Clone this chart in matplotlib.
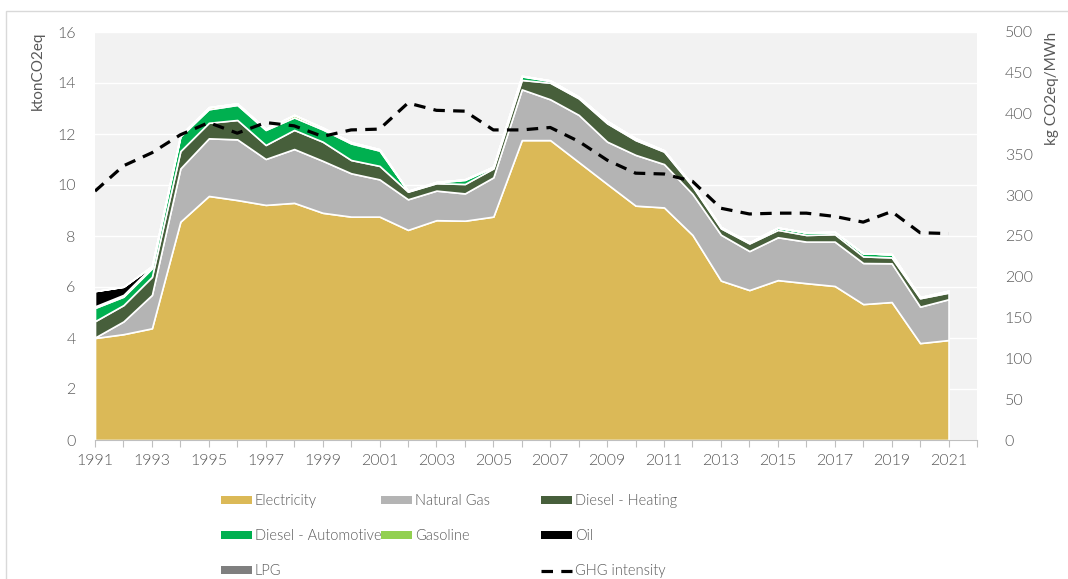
import numpy as np
import matplotlib
matplotlib.use("Agg")
from matplotlib import pyplot as plt
from matplotlib.patches import Patch, Rectangle
from matplotlib.lines import Line2D

years = list(range(1991, 2022))

electricity = [4.00, 4.15, 4.38, 8.56, 9.57, 9.41, 9.22, 9.30, 8.91, 8.76, 8.76,
               8.24, 8.62, 8.60, 8.76, 11.76, 11.76, 10.90, 10.04, 9.19, 9.12,
               8.04, 6.25, 5.88, 6.27, 6.15, 6.04, 5.33, 5.41, 3.80, 3.92]
natural_gas = [0.02, 0.50, 1.31, 2.09, 2.26, 2.38, 1.80, 2.11, 2.04, 1.70, 1.46,
               1.20, 1.16, 1.07, 1.54, 1.99, 1.60, 1.85, 1.66, 1.99, 1.70,
               1.61, 1.80, 1.53, 1.68, 1.63, 1.74, 1.61, 1.52, 1.43, 1.60]
diesel_heating = [0.64, 0.64, 0.71, 0.68, 0.61, 0.76, 0.55, 0.75, 0.75, 0.52, 0.53,
                  0.30, 0.29, 0.37, 0.35, 0.37, 0.65, 0.65, 0.72, 0.58, 0.49,
                  0.30, 0.25, 0.30, 0.29, 0.26, 0.29, 0.26, 0.23, 0.33, 0.26]
diesel_auto = [0.52, 0.33, 0.33, 0.57, 0.53, 0.59, 0.59, 0.49, 0.48, 0.65, 0.60,
               0.02, 0.03, 0.16, 0.05, 0.14, 0.07, 0.05, 0.08, 0.06, 0.04,
               0.05, 0.05, 0.04, 0.09, 0.10, 0.09, 0.12, 0.13, 0.04, 0.07]
gasoline = [0.06, 0.07, 0.07, 0.05, 0.08, 0.06, 0.04, 0.10, 0.07, 0.05, 0.05,
            0.01, 0.02, 0.02, 0.02, 0.02, 0.02, 0.01, 0.01, 0.01, 0.01,
            0.00, 0.00, 0.00, 0.00, 0.00, 0.00, 0.00, 0.00, 0.00, 0.00]
oil = [0.60, 0.32, 0.02, 0.00, 0.00, 0.00, 0.00, 0.00, 0.00, 0.00, 0.00,
       0.00, 0.00, 0.00, 0.00, 0.00, 0.00, 0.00, 0.00, 0.00, 0.00,
       0.00, 0.00, 0.00, 0.00, 0.00, 0.00, 0.00, 0.00, 0.00, 0.00]
lpg = [0.0] * 31
ghg_intensity = [305, 336, 352, 374, 389, 376, 389, 385, 372, 380, 381,
                 413, 404, 403, 380, 380, 383, 366, 343, 327, 326,
                 317, 284, 277, 278, 278, 274, 267, 280, 254, 253]

series_names = ["Electricity", "Natural Gas", "Diesel - Heating",
                "Diesel - Automotive", "Gasoline", "Oil", "LPG"]
colors = ["#DBB957", "#B4B4B4", "#475F3B", "#00B050", "#92D050", "#000000", "#7F7F7F"]

TXT = "#595959"
FS = 11.5
plt.rcParams["font.family"] = ["Lato", "DejaVu Sans"]
plt.rcParams["font.size"] = FS
plt.rcParams["font.weight"] = 300

fig = plt.figure(figsize=(10.68, 5.79), dpi=100)
W, H = 1068, 579
ax = fig.add_axes([95 / W, 1 - 440 / H, (977 - 95) / W, (440 - 32) / H])
ax.set_facecolor("#F2F2F2")

# frame around the whole chart
fig.patches.append(Rectangle((6 / W, -0.1), 1.1, 1 - 11 / H + 0.1, transform=fig.transFigure,
                             fill=False, edgecolor="#D9D9D9", linewidth=1))

data = [electricity, natural_gas, diesel_heating, diesel_auto, gasoline, oil, lpg]
ax.stackplot(years, *data, colors=colors, edgecolor="white", linewidth=1.2, zorder=2)

ax.set_xlim(1991, 2022)
ax.set_ylim(0, 16)
ax.set_yticks(np.arange(0, 17, 2))
ax.set_xticks(range(1991, 2023))
ax.set_xticklabels([str(y) if (y - 1991) % 2 == 0 and y < 2022 else "" for y in range(1991, 2023)])
ax.yaxis.grid(True, color="white", linewidth=1)
ax.set_axisbelow(True)
for s in ["top", "right", "left"]:
    ax.spines[s].set_visible(False)
ax.spines["bottom"].set_color("#BFBFBF")
ax.tick_params(axis="x", length=5, color="#BFBFBF", colors=TXT, pad=5)
ax.tick_params(axis="y", length=0, colors=TXT, pad=14)
ax.set_ylabel("ktonCO2eq", color=TXT, loc="top", fontsize=11, labelpad=9)

zax = ax.twinx()
zax.plot(years, ghg_intensity, color="black", linewidth=2.3, linestyle=(0, (3.6, 2.6)), zorder=5)
zax.set_ylim(0, 500)
zax.set_yticks(np.arange(0, 501, 50))
for s in ["top", "right", "left", "bottom"]:
    zax.spines[s].set_visible(False)
zax.tick_params(axis="y", length=0, colors=TXT, pad=20)
zax.set_ylabel("kg CO2eq/MWh", color=TXT, loc="top", fontsize=11, labelpad=9)

# legend, three fixed-width columns like the original
handles = [Patch(facecolor=c, edgecolor="none") for c in colors]
ghg_handle = Line2D([], [], color="black", linewidth=2.3, linestyle=(0, (3.6, 2.6)))
columns = [
    ([handles[0], handles[3], handles[6]], [series_names[0], series_names[3], series_names[6]], 221),
    ([handles[1], handles[4]], [series_names[1], series_names[4]], 381),
    ([handles[2], handles[5], ghg_handle], [series_names[2], series_names[5], "GHG intensity"], 541),
]
LFS = 10.5
for hs, ls, x0 in columns:
    fig.legend(hs, ls, loc="upper left", bbox_to_anchor=(x0 / W, 1 - 494 / H),
               frameon=False, borderpad=0, borderaxespad=0, handlelength=2.1,
               handleheight=0.52, handletextpad=0.22, labelspacing=1.45,
               labelcolor=TXT, prop={"size": LFS, "weight": 300})

fig.savefig("out.png", dpi=100)
